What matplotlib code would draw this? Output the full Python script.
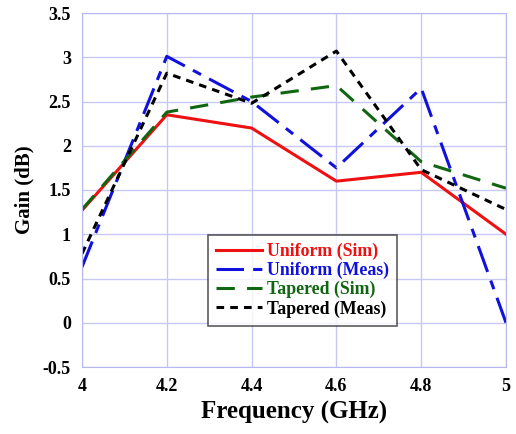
import numpy as np
import matplotlib.pyplot as plt

plt.rcParams['font.family'] = ['Liberation Serif', 'DejaVu Serif']
plt.rcParams['font.weight'] = 'bold'

freq = [4.0, 4.2, 4.4, 4.6, 4.8, 5.0]
uniform_sim = [1.27, 2.35, 2.20, 1.60, 1.70, 1.00]
uniform_meas = [0.63, 3.01, 2.50, 1.75, 2.65, 0.00]
tapered_sim = [1.28, 2.38, 2.55, 2.68, 1.82, 1.52]
tapered_meas = [0.78, 2.82, 2.48, 3.07, 1.73, 1.28]

fig = plt.figure(figsize=(5.16, 4.34), dpi=100)
ax = fig.add_axes([82 / 516, 1 - 367 / 434, 424 / 516, 354 / 434])

ax.plot(freq, uniform_sim, color='#ee1111', lw=2.2, label='Uniform (Sim)')
ax.plot(freq, uniform_meas, color='#1111dd', lw=2.2, dashes=(9, 3, 3, 3),
        label='Uniform (Meas)')
ax.plot(freq, tapered_sim, color='#116611', lw=2.2, dashes=(6, 4),
        label='Tapered (Sim)')
ax.plot(freq, tapered_meas, color='black', lw=2.2, dashes=(2.5, 2),
        label='Tapered (Meas)')

ax.set_xlim(4, 5)
ax.set_ylim(-0.5, 3.5)
ax.set_xticks([4, 4.2, 4.4, 4.6, 4.8, 5])
ax.set_xticklabels(['4', '4.2', '4.4', '4.6', '4.8', '5'])
ax.set_yticks(np.arange(-0.5, 3.51, 0.5))
ax.set_yticklabels(['-0.5', '0', '0.5', '1', '1.5', '2', '2.5', '3', '3.5'])
ax.grid(True, color='#c8c8f4', lw=1)
for s in ax.spines.values():
    s.set_color('#b8b8f0')
ax.tick_params(length=0, labelsize=13, pad=8)
ax.set_xlabel('Frequency (GHz)', fontsize=18, fontweight='bold', labelpad=4)
ax.set_ylabel('Gain (dB)', fontsize=15, fontweight='bold', labelpad=6)

leg = ax.legend(loc='upper left', bbox_to_anchor=(0.297, 0.373), fontsize=12.8,
                frameon=True, fancybox=False, edgecolor='#333333',
                handlelength=2.6, borderpad=0.45, labelspacing=0.1,
                handletextpad=0.3, borderaxespad=0)
leg.get_frame().set_linewidth(1.2)
for t, c in zip(leg.get_texts(), ['#ee1111', '#1111dd', '#116611', 'black']):
    t.set_color(c)

fig.savefig('out.png', dpi=100)
